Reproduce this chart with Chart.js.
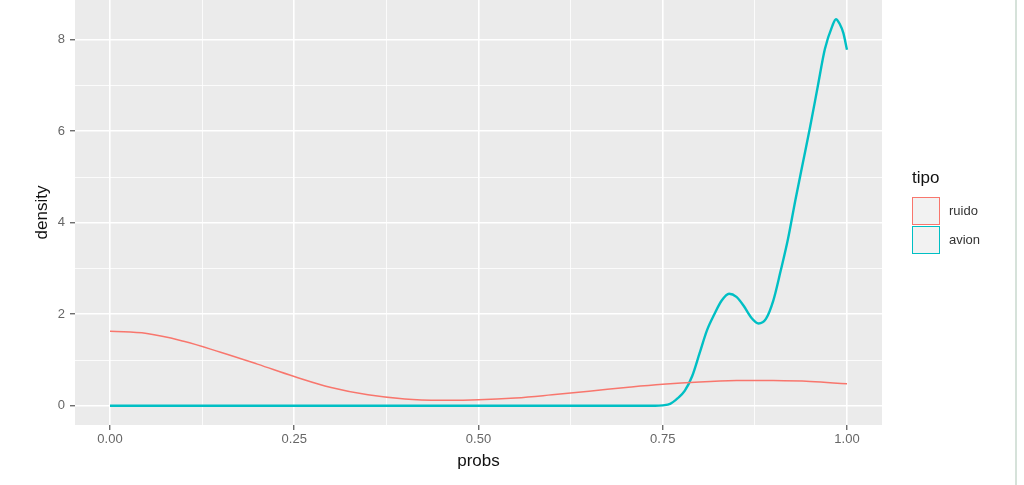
<!DOCTYPE html>
<html>
<head>
<meta charset="utf-8">
<script src="https://cdn.jsdelivr.net/npm/chart.js@4"></script>
<style>
  body { margin: 0; background: #fff; font-family: "Liberation Sans", Arial, sans-serif; }
  #wrap { position: relative; width: 1024px; height: 485px; }
  #edge { position: absolute; left: 1015px; top: 0; width: 2px; height: 485px; background: #d6e2da; }
  #legend { position: absolute; left: 912px; top: 167px; }
  #legend .title { font-size: 17px; color: #111; height: 29px; line-height: 22px; }
  #legend .row { display: flex; align-items: center; height: 29px; }
  #legend .key { width: 28px; height: 28px; background: #f2f2f2; box-sizing: border-box; border: 1.5px solid; }
  #legend .lab { font-size: 13px; color: #333; margin-left: 9px; }
</style>
</head>
<body>
<div id="wrap">
  <canvas id="plot" width="1024" height="485"></canvas>
  <div id="edge"></div>
  <div id="legend"></div>
</div>
<script>
// density curves for probs, grouped by tipo
const groups = ['ruido', 'avion'];
const colors = ['#F8766D', '#00BFC4'];

const probsRuido = [0, 0.05, 0.10, 0.15, 0.20, 0.25, 0.30, 0.35, 0.40, 0.45, 0.50,
                    0.55, 0.60, 0.65, 0.70, 0.75, 0.80, 0.85, 0.90, 0.95, 1.00];
const densRuido = [1.63, 1.58, 1.41, 1.17, 0.91, 0.64, 0.40, 0.24, 0.15, 0.12, 0.13,
                   0.17, 0.24, 0.32, 0.40, 0.47, 0.52, 0.55, 0.55, 0.53, 0.48];

const probsAvion = [0, 0.1, 0.2, 0.3, 0.4, 0.5, 0.6, 0.7, 0.74, 0.75, 0.76, 0.77, 0.78, 0.79,
                    0.80, 0.81, 0.82, 0.83, 0.84, 0.85, 0.86, 0.87, 0.88, 0.89, 0.90, 0.91,
                    0.92, 0.93, 0.94, 0.95, 0.96, 0.97, 0.98, 0.985, 0.99, 0.995, 1.00];
const densAvion = [0, 0, 0, 0, 0, 0, 0, 0, 0, 0.01, 0.04, 0.16, 0.33, 0.65,
                   1.15, 1.65, 2.0, 2.3, 2.45, 2.38, 2.18, 1.93, 1.8, 1.9, 2.3, 2.95,
                   3.65, 4.5, 5.3, 6.1, 6.95, 7.8, 8.3, 8.45, 8.35, 8.15, 7.78];

const xMajor = [0, 0.25, 0.5, 0.75, 1];
const xMinor = [0.125, 0.375, 0.625, 0.875];
const yMajor = [0, 2, 4, 6, 8];
const yMinor = [1, 3, 5, 7];

const toPoints = (xs, ys) => xs.map((x, i) => ({ x: x, y: ys[i] }));

const panelBg = {
  id: 'panelBg',
  beforeDraw(chart) {
    const a = chart.chartArea;
    const ctx = chart.ctx;
    ctx.save();
    ctx.fillStyle = '#ebebeb';
    ctx.fillRect(a.left, a.top, a.right - a.left, a.bottom - a.top);
    ctx.restore();
  }
};

const isMajor = (list, v) => list.some(m => Math.abs(m - v) < 1e-9);

function gridOpts(majors) {
  return {
    color: '#ffffff',
    lineWidth: ctx => isMajor(majors, ctx.tick.value) ? 1.6 : 0.8,
    tickColor: ctx => isMajor(majors, ctx.tick.value) ? '#333' : 'rgba(0,0,0,0)',
    tickLength: 5,
    tickWidth: 1,
    drawOnChartArea: true
  };
}

const tickFont = { size: 13, family: 'Liberation Sans' };
const titleFont = { size: 17, family: 'Liberation Sans' };

new Chart(document.getElementById('plot'), {
  type: 'line',
  data: {
    datasets: [
      { label: groups[0], data: toPoints(probsRuido, densRuido), borderColor: colors[0], borderWidth: 1.5,
        cubicInterpolationMode: 'default', tension: 0.4 },
      { label: groups[1], data: toPoints(probsAvion, densAvion), borderColor: colors[1], borderWidth: 2.4,
        cubicInterpolationMode: 'monotone' }
    ]
  },
  options: {
    responsive: false,
    animation: false,
    layout: { padding: { left: 0, right: 142, top: 0, bottom: 0 } },
    elements: {
      point: { radius: 0 },
      line: { fill: false }
    },
    plugins: { legend: { display: false }, tooltip: { enabled: false } },
    scales: {
      x: {
        type: 'linear',
        min: -0.0475,
        max: 1.0475,
        afterBuildTicks: s => { s.ticks = xMajor.concat(xMinor).sort((a, b) => a - b).map(v => ({ value: v })); },
        afterFit: s => { s.height = 60; s.paddingLeft = 0; s.paddingRight = 0; },
        border: { display: false },
        grid: gridOpts(xMajor),
        ticks: {
          padding: 2,
          color: '#666',
          font: tickFont,
          maxRotation: 0,
          autoSkip: false,
          callback: v => isMajor(xMajor, v) ? v.toFixed(2) : ''
        },
        title: {
          display: true,
          text: 'probs',
          color: '#111',
          font: titleFont,
          padding: { top: 0, bottom: 13 }
        }
      },
      y: {
        type: 'linear',
        min: -0.42,
        max: 8.87,
        afterBuildTicks: s => { s.ticks = yMajor.concat(yMinor).sort((a, b) => a - b).map(v => ({ value: v })); },
        afterFit: s => { s.width = 75; s.paddingTop = 0; s.paddingBottom = 0; },
        border: { display: false },
        grid: gridOpts(yMajor),
        ticks: {
          padding: 5,
          color: '#666',
          font: tickFont,
          autoSkip: false,
          callback: v => isMajor(yMajor, v) ? String(v) : ''
        },
        title: {
          display: true,
          text: 'density',
          color: '#111',
          font: titleFont,
          padding: { top: 32, bottom: 0 }
        }
      }
    }
  },
  plugins: [panelBg]
});

// legend in ggplot style
const leg = document.getElementById('legend');
let html = '<div class="title">tipo</div>';
groups.forEach((g, i) => {
  html += '<div class="row"><div class="key" style="border-color:' + colors[i] + '"></div><div class="lab">' + g + '</div></div>';
});
leg.innerHTML = html;
</script>
</body>
</html>
